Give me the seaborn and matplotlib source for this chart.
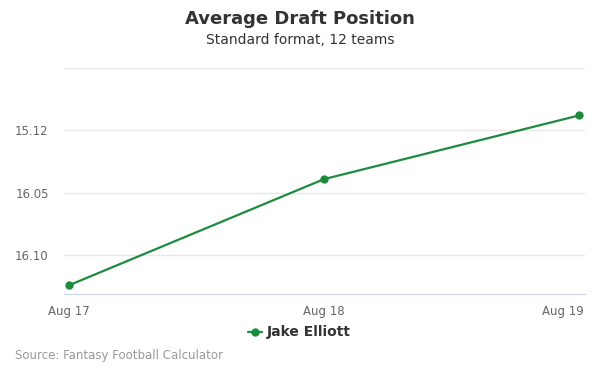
import pandas as pd
import numpy as np
import seaborn as sns
import matplotlib.pyplot as plt
import matplotlib.transforms as mtransforms

# dados (ADP em número de pick geral, eixo invertido)
datas = ["Aug 17", "Aug 18", "Aug 19"]
adp_pick = [192.4, 183.9, 178.8]
ticks_y = [175, 180, 185, 190]
labels_y = ["", "15.12", "16.05", "16.10"]
jogador = "Jake Elliott"

df = pd.DataFrame({"data": np.arange(len(datas)), "adp": adp_pick, "jogador": jogador})

sns.set_style("white")
plt.rcParams['font.family'] = ['DejaVu Sans']

fig = plt.figure(figsize=(6, 3.75), dpi=100)
ax = fig.add_axes([64/600, 81/375, 521/600, 226/375])

verde = "#1c8c3c"
sns.lineplot(data=df, x="data", y="adp", hue="jogador", palette=[verde],
             marker="o", markersize=6, markeredgewidth=0, linewidth=1.6, ax=ax, legend=False)

ax.set_xlim(-0.0196, 2.0235)
ax.set_ylim(193.1, 175)
ax.set_yticks(ticks_y)
ax.set_yticklabels(labels_y)
ax.set_xticks(range(len(datas)))
ax.set_xticklabels(datas)
ax.grid(axis="y", color="#e6e6e6", linewidth=1)
ax.set_axisbelow(True)
for s in ["top", "right", "left"]:
    ax.spines[s].set_visible(False)
ax.spines["bottom"].set_color("#ccd6eb")
ax.tick_params(axis="x", colors="#ccd6eb", length=5, width=1, labelcolor="#666666", labelsize=8.5, pad=3)
ax.tick_params(axis="y", length=0, labelcolor="#666666", labelsize=8.5, pad=11)
ax.set_xlabel("")
ax.set_ylabel("")

# último rótulo do eixo x alinhado à direita, como no original
ultimo = ax.get_xticklabels()[-1]
ultimo.set_ha("right")
ultimo.set_transform(ultimo.get_transform() + mtransforms.ScaledTranslation(5/100, 0, fig.dpi_scale_trans))

fig.text(0.5, 0.948, "Average Draft Position", ha="center", va="center",
         fontsize=13, fontweight="bold", color="#333333")
fig.text(0.5, 0.892, "Standard format, 12 teams", ha="center", va="center",
         fontsize=10, color="#333333")

# legenda manual
y_leg = 1 - 332/375
fig.add_artist(plt.Line2D([248/600, 262/600], [y_leg, y_leg], color=verde,
                          linewidth=1.6, transform=fig.transFigure))
fig.add_artist(plt.Line2D([255/600], [y_leg], color=verde, marker="o",
                          markersize=6, markeredgewidth=0, transform=fig.transFigure))
fig.text(267/600, y_leg, jogador, ha="left", va="center", fontsize=10,
         fontweight="bold", color="#333333")
fig.text(15/600, 1 - 356/375, "Source: Fantasy Football Calculator", ha="left", va="center",
         fontsize=8.5, color="#999999")

plt.savefig("out.png", dpi=100)
